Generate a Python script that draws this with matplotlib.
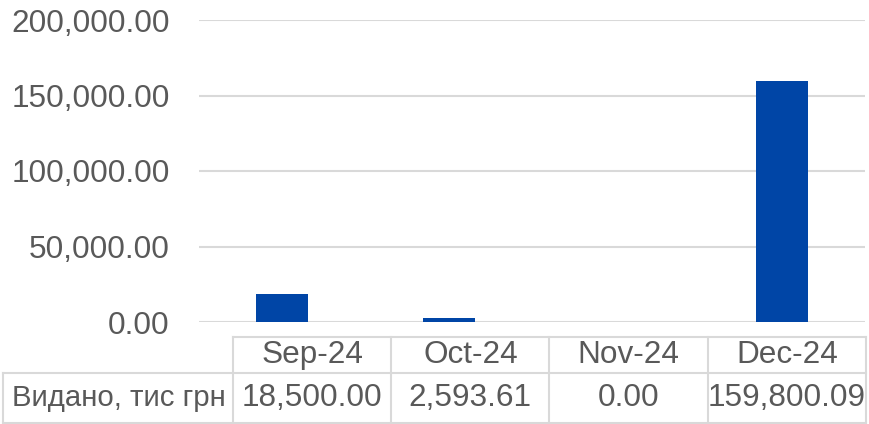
import matplotlib.pyplot as plt
from matplotlib.ticker import FuncFormatter

# datos
meses = ["Sep-24", "Oct-24", "Nov-24", "Dec-24"]
vydano = [18500.00, 2593.61, 0.00, 159800.09]
etiqueta_fila = "Видано, тис грн"
yticks = [0, 50000, 100000, 150000, 200000]

color_barra = "#0045A6"
color_texto = "#595959"
color_linea = "#D9D9D9"

plt.rcParams['font.family'] = ['Liberation Sans', 'DejaVu Sans']

W, H = 870, 424
fig = plt.figure(figsize=(W / 100, H / 100), dpi=100)

# area del grafico
ax = fig.add_axes([199 / W, 1 - 322 / H, 666 / W, 302 / H])
x = range(len(meses))
ax.bar(x, vydano, width=0.31, color=color_barra, zorder=3)
ax.set_xlim(-0.5, len(meses) - 0.5)
ax.set_ylim(0, 200000)
ax.set_yticks(yticks)
ax.yaxis.set_major_formatter(FuncFormatter(lambda v, p: f"{v:,.2f}"))
ax.tick_params(axis='y', length=0, pad=21, labelsize=22.7, labelcolor=color_texto)
ax.set_xticks([])
ax.grid(axis='y', color=color_linea, linewidth=1.5, zorder=0)
for s in ax.spines.values():
    s.set_visible(False)

# tabla de datos
tx0, tx1 = 3, 866
tab = fig.add_axes([tx0 / W, 1 - 423 / H, (tx1 - tx0) / W, 86 / H])
col_w = 158.25
lab_w = (tx1 - tx0) - col_w * len(meses)
tab.set_xlim(0, tx1 - tx0)
tab.set_ylim(0, 86)
tab.axis('off')
h_data, h_head = 50, 86

kw = dict(color=color_linea, linewidth=1.5, solid_capstyle='projecting', clip_on=False)
# horizontales
tab.plot([lab_w, tx1 - tx0], [h_head, h_head], **kw)
tab.plot([0, tx1 - tx0], [h_data, h_data], **kw)
tab.plot([0, tx1 - tx0], [0, 0], **kw)
# verticales
tab.plot([0, 0], [0, h_data], **kw)
for i in range(len(meses) + 1):
    xv = lab_w + i * col_w
    tab.plot([xv, xv], [0, h_head], **kw)

fs = 22.7
tab.text(9, h_data / 2, etiqueta_fila, ha='left', va='center', fontsize=21.2, color=color_texto)
for i, (m, v) in enumerate(zip(meses, vydano)):
    xc = lab_w + (i + 0.5) * col_w
    tab.text(xc, (h_data + h_head) / 2, m, ha='center', va='center', fontsize=fs, color=color_texto)
    tab.text(xc, h_data / 2, f"{v:,.2f}", ha='center', va='center', fontsize=fs, color=color_texto)

fig.savefig("out.png", dpi=100)
